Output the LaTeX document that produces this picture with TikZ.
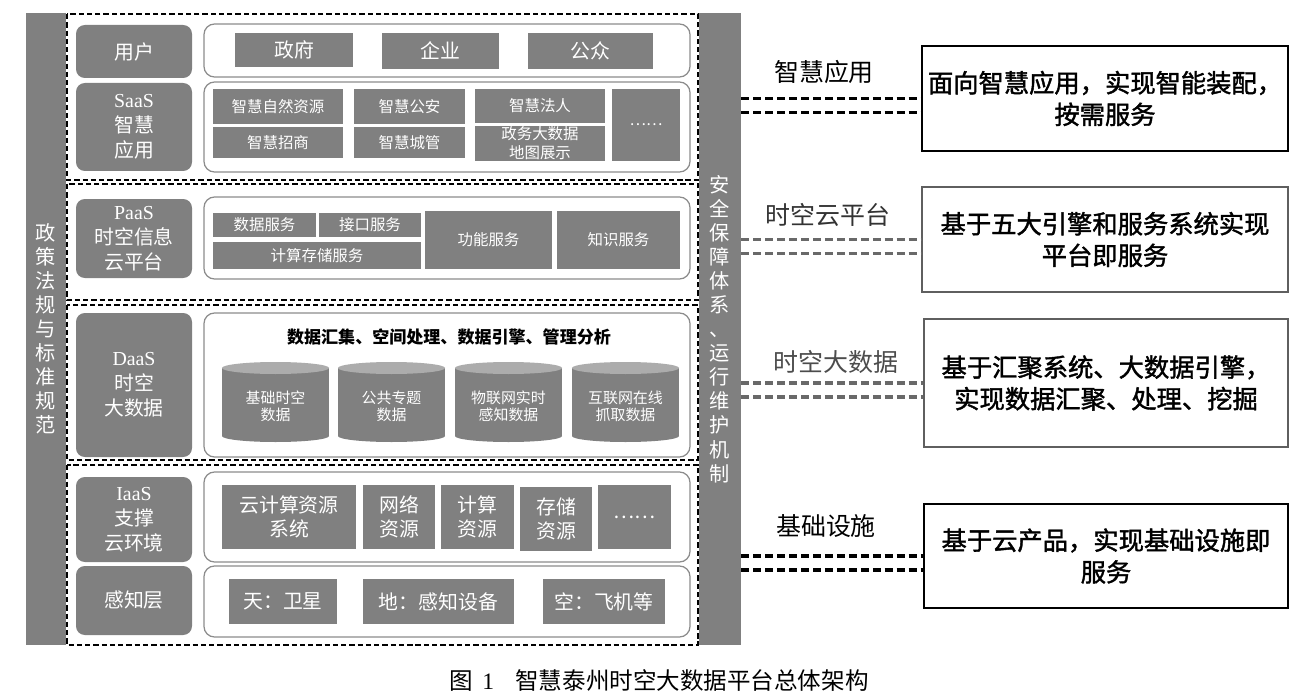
\documentclass[tikz,border=0pt]{standalone}
\usepackage{fontspec}
\setmainfont{Liberation Serif}
\newfontfamily\cjk{Noto Sans CJK SC}
\newfontfamily\cjkfat[FakeBold=1.6]{Noto Sans CJK SC}
\usetikzlibrary{shapes.geometric}
\definecolor{boxgray}{RGB}{128,128,128}
\definecolor{topgray}{RGB}{172,172,172}
\definecolor{panegray}{RGB}{140,140,140}
\definecolor{linegray}{RGB}{105,105,105}
\definecolor{notegray}{RGB}{95,95,95}
% box from (x1,y1) to (x2,y2), pixel units
\newcommand{\blk}[7]{\node (#2) at ({(#3+#5)/2},{(#4+#6)/2}) [#1, minimum width={(#5-#3)*0.02cm}, minimum height={(#6-#4)*0.02cm}] {#7};}

\begin{document}
\begin{tikzpicture}[x=0.02cm, y=-0.02cm,
    layerbar/.style={fill=boxgray, text=white, align=center, inner sep=0pt, font=\cjk\fontsize{11.5}{13.7}\selectfont},
    layerlab/.style={fill=boxgray, rounded corners=5pt, text=white, align=center, inner sep=0pt, font=\cjk\fontsize{11.3}{14.2}\selectfont},
    layerpane/.style={draw=panegray, line width=0.7pt, rounded corners=6pt, fill=white, inner sep=0pt},
    sectbox/.style={draw=black, line width=0.6pt, dash pattern=on 3pt off 1.7pt},
    cellbox/.style={fill=boxgray, text=white, align=center, inner sep=0pt, font=\cjk\fontsize{11.3}{13.6}\selectfont},
    cellsmall/.style={font=\cjk\fontsize{8.8}{10.8}\selectfont},
    drumtxt/.style={text=white, align=center, inner sep=0pt, font=\cjk\fontsize{8.5}{9.6}\selectfont},
    notebox/.style={line width=0.8pt, fill=white, align=center, inner sep=0pt, font=\cjkfat\fontsize{14.4}{18}\selectfont},
    tagtxt/.style={inner sep=0pt, font=\cjk\fontsize{14.2}{17}\selectfont},
    conn/.style={line width=1.9pt, dash pattern=on 4.5pt off 2.3pt}]
    \useasboundingbox (0,0) rectangle (1300,699);
    % side bars
    \blk{layerbar}{lbar}{26}{13}{66}{645}{政\\策\\法\\规\\与\\标\\准\\规\\范}
    \blk{layerbar}{rbar}{699}{13}{741}{645}{安\\全\\保\\障\\体\\系\\、\\运\\行\\维\\护\\机\\制}
    \foreach \ya/\yb in {14/180, 184/300, 305/460, 465/645} {
        \draw[sectbox] (67,\ya) rectangle (698,\yb);
    }
    % layer names
    \blk{layerlab}{user}{76}{25}{192}{78}{用户}
    \blk{layerlab}{saas}{76}{83}{192}{171}{{\rmfamily SaaS}\\智慧\\应用}
    \blk{layerlab}{paas}{76}{199}{192}{278}{{\rmfamily PaaS}\\时空信息\\云平台}
    \blk{layerlab}{daas}{76}{313}{192}{457}{{\rmfamily DaaS}\\时空\\大数据}
    \blk{layerlab}{iaas}{76}{477}{192}{562}{{\rmfamily IaaS}\\支撑\\云环境}
    \blk{layerlab}{sense}{76}{566}{192}{635}{感知层}
    \blk{layerpane}{puser}{204}{24}{690}{77}{}
    \blk{layerpane}{psaas}{204}{82}{690}{172}{}
    \blk{layerpane}{ppaas}{204}{197}{690}{279}{}
    \blk{layerpane}{pdaas}{204}{313}{690}{457}{}
    \blk{layerpane}{piaas}{204}{472}{690}{562}{}
    \blk{layerpane}{psense}{204}{566}{690}{637}{}
    % users
    \blk{cellbox}{gov}{235}{33}{353}{67}{政府}
    \blk{cellbox}{ent}{382}{33}{499}{69}{企业}
    \blk{cellbox}{pub}{528}{33}{653}{69}{公众}
    % SaaS
    \blk{cellbox, cellsmall}{s1}{213}{89}{343}{124}{智慧自然资源}
    \blk{cellbox, cellsmall}{s2}{213}{127}{343}{158}{智慧招商}
    \blk{cellbox, cellsmall}{s3}{354}{89}{465}{124}{智慧公安}
    \blk{cellbox, cellsmall}{s4}{354}{127}{465}{158}{智慧城管}
    \blk{cellbox, cellsmall}{s5}{475}{89}{605}{123}{智慧法人}
    \blk{cellbox, cellsmall}{s6}{475}{126}{605}{161}{政务大数据\\地图展示}
    \blk{cellbox, cellsmall}{s7}{612}{89}{680}{161}{……}
    % PaaS
    \blk{cellbox, cellsmall}{p1}{213}{213}{316}{237}{数据服务}
    \blk{cellbox, cellsmall}{p2}{319}{213}{421}{237}{接口服务}
    \blk{cellbox, cellsmall}{p3}{213}{242}{421}{269}{计算存储服务}
    \blk{cellbox, cellsmall}{p4}{425}{211}{552}{269}{功能服务}
    \blk{cellbox, cellsmall}{p5}{557}{211}{680}{269}{知识服务}
    % DaaS
    \node (dtitle) at (449,337) [inner sep=0pt, font=\cjk\bfseries\fontsize{9.7}{11}\selectfont] {数据汇集、空间处理、数据引擎、管理分析};
    \foreach \xa/\nm/\txt in {222/db1/{基础时空\\数据}, 338/db2/{公共专题\\数据}, 455/db3/{物联网实时\\感知数据}, 572/db4/{互联网在线\\抓取数据}} {
        \node at ({\xa+53.5},436) [ellipse, fill=boxgray, inner sep=0pt, minimum width={107*0.02cm}, minimum height={12*0.02cm}] {};
        \blk{cellbox}{\nm}{\xa}{368}{\xa+107}{436}{}
        \node at ({\xa+53.5},368) [ellipse, fill=topgray, inner sep=0pt, minimum width={107*0.02cm}, minimum height={12*0.02cm}] {};
        \node at ({\xa+53.5},406) [drumtxt] {\txt};
    }
    % IaaS
    \blk{cellbox}{i1}{222}{485}{356}{549}{云计算资源\\系统}
    \blk{cellbox}{i2}{363}{485}{435}{549}{网络\\资源}
    \blk{cellbox}{i3}{441}{485}{514}{549}{计算\\资源}
    \blk{cellbox}{i4}{520}{487}{592}{551}{存储\\资源}
    \blk{cellbox}{i5}{598}{485}{671}{549}{……}
    % sensing
    \blk{cellbox}{k1}{229}{579}{337}{624}{天：卫星}
    \blk{cellbox}{k2}{363}{579}{514}{624}{地：感知设备}
    \blk{cellbox}{k3}{543}{579}{665}{624}{空：飞机等}
    % right side
    \blk{notebox, draw=black}{b1}{922}{46}{1288}{151}{面向智慧应用，实现智能装配，\\按需服务}
    \blk{notebox, draw=notegray}{b2}{922}{187}{1288}{292}{基于五大引擎和服务系统实现\\平台即服务}
    \blk{notebox, draw=notegray}{b3}{924}{319}{1288}{447}{基于汇聚系统、大数据引擎，\\实现数据汇聚、处理、挖掘}
    \blk{notebox, draw=black}{b4}{924}{504}{1288}{608}{基于云产品，实现基础设施即\\服务}
    \node (t1) at (824,72) [tagtxt] {智慧应用};
    \node (t2) at (828,215) [tagtxt, text=black!80] {时空云平台};
    \node (t3) at (836,362) [tagtxt, text=black!70] {时空大数据};
    \node (t4) at (826,526) [tagtxt] {基础设施};
    \foreach \b/\c in {b1/black, b2/linegray, b3/linegray, b4/black} {
        \coordinate (\b low) at ([yshift=-0.28cm]\b.west);
        \draw[conn, \c] (\b.west -| rbar.east) -- (\b.west);
        \draw[conn, \c] (\b low -| rbar.east) -- (\b low);
    }
    \node (cap) at (659,681) [inner sep=0pt, font=\cjk\fontsize{13.4}{15}\selectfont] {图\hspace{0.4em}{\rmfamily 1}\hspace{0.9em}智慧泰州时空大数据平台总体架构};
\end{tikzpicture}
\end{document}
